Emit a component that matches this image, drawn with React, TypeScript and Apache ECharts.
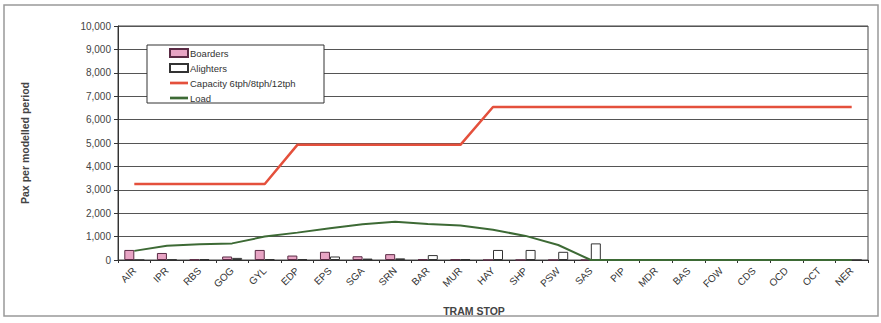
import React, { useEffect, useRef } from "react";
import * as echarts from "echarts";

const stops = ["AIR","IPR","RBS","GOG","GYL","EDP","EPS","SGA","SRN","BAR","MUR","HAY","SHP","PSW","SAS","PIP","MDR","BAS","FOW","CDS","OCD","OCT","NER"];
const boarders = [430, 300, 20, 150, 430, 190, 350, 160, 250, 30, 20, 0, 0, 0, 0, 0, 0, 0, 0, 0, 0, 0, 0];
const alighters = [0, 20, 40, 90, 40, 40, 150, 60, 70, 210, 30, 430, 430, 350, 710, 0, 0, 0, 0, 0, 0, 0, 0];
const capacity = [3250, 3250, 3250, 3250, 3250, 4920, 4920, 4920, 4920, 4920, 4920, 6540, 6540, 6540, 6540, 6540, 6540, 6540, 6540, 6540, 6540, 6540, 6540];
const load = [390, 610, 670, 710, 1000, 1170, 1360, 1530, 1630, 1540, 1470, 1290, 1030, 640, 0, 0, 0, 0, 0, 0, 0, 0, 0];
const yTicks = { min: 0, max: 10000, interval: 1000 };

const FONT = "Liberation Sans, Arial, sans-serif";
const LINE_ICON = "path://M0,0 L20,0 L20,3 L0,3 Z";

export default function App() {
  const ref = useRef<HTMLDivElement>(null);
  useEffect(() => {
    const chart = echarts.init(ref.current!, undefined, { renderer: "svg" });
    chart.setOption({
      animation: false,
      backgroundColor: "#fff",
      textStyle: { fontFamily: FONT },
      grid: { left: 118, right: 13, top: 26, bottom: 63, show: true, borderColor: "#444", borderWidth: 1 },
      graphic: [
        { type: "rect", shape: { x: 4, y: 5, width: 874, height: 311 }, style: { fill: "none", stroke: "#999", lineWidth: 1.5 }, silent: true },
        { type: "rect", z: 10, shape: { x: 147, y: 45, width: 177, height: 58 }, style: { fill: "#fff", stroke: "#333", lineWidth: 1 }, silent: true },
      ],
      legend: {
        orient: "vertical",
        left: 169,
        top: 48,
        z: 20,
        itemGap: 5,
        itemWidth: 18,
        itemHeight: 8,
        padding: 0,
        textStyle: { fontSize: 9.5, color: "#333", lineHeight: 10, padding: [0, 0, 0, -3] },
        data: [
          { name: "Boarders", icon: "rect" },
          { name: "Alighters", icon: "rect" },
          { name: "Capacity 6tph/8tph/12tph", icon: LINE_ICON },
          { name: "Load", icon: LINE_ICON },
        ],
      },
      xAxis: {
        type: "category",
        data: stops,
        boundaryGap: true,
        name: "TRAM STOP",
        nameLocation: "middle",
        nameGap: 45,
        nameTextStyle: { fontSize: 10.5, fontWeight: "bold", color: "#444", padding: [0, 38, 0, 0] },
        axisLine: { lineStyle: { color: "#333" } },
        axisTick: { show: true, alignWithLabel: false, length: 3, lineStyle: { color: "#333" } },
        axisLabel: { rotate: 45, fontSize: 10, color: "#333", margin: 9, interval: 0, hideOverlap: false },
      },
      yAxis: {
        type: "value",
        min: yTicks.min,
        max: yTicks.max,
        interval: yTicks.interval,
        name: "Pax per modelled period",
        nameLocation: "middle",
        nameRotate: 90,
        nameGap: 88,
        nameTextStyle: { fontSize: 10.5, fontWeight: "bold", color: "#444" },
        axisLine: { show: true, lineStyle: { color: "#333" } },
        axisTick: { show: true, length: 4, lineStyle: { color: "#333" } },
        axisLabel: {
          fontSize: 10,
          color: "#444",
          margin: 7,
          formatter: (v: number) => v.toLocaleString("en-US"),
        },
        splitLine: { show: true, lineStyle: { color: "#555", width: 1 } },
      },
      series: [
        {
          name: "Boarders",
          type: "bar",
          data: boarders,
          barWidth: 10,
          barGap: "0%",
          itemStyle: { color: "#e8a4c4", borderColor: "#5a2a44", borderWidth: 1 },
        },
        {
          name: "Alighters",
          type: "bar",
          data: alighters,
          barWidth: 10,
          barGap: "0%",
          itemStyle: { color: "#fff", borderColor: "#333", borderWidth: 1 },
        },
        {
          name: "Capacity 6tph/8tph/12tph",
          type: "line",
          data: capacity,
          symbol: "none",
          lineStyle: { color: "#e4503c", width: 2.5 },
          itemStyle: { color: "#e4503c" },
          z: 5,
        },
        {
          name: "Load",
          type: "line",
          data: load,
          symbol: "none",
          lineStyle: { color: "#3d6a35", width: 2 },
          itemStyle: { color: "#3d6a35" },
          z: 6,
        },
      ],
    });
    return () => chart.dispose();
  }, []);
  return <div ref={ref} style={{ width: 881, height: 323, position: "absolute", left: 0, top: 0 }} />;
}
